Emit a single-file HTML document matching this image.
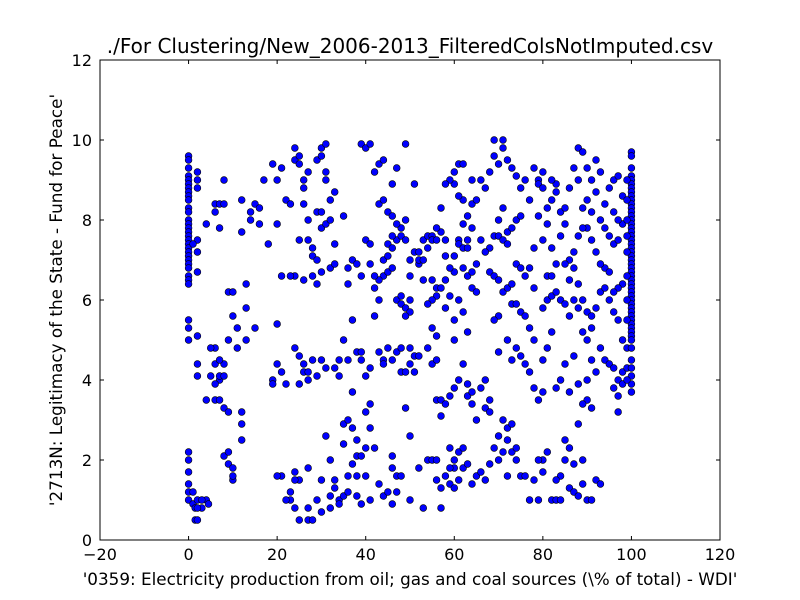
<!DOCTYPE html>
<html><head><meta charset="utf-8"><style>
html,body{margin:0;padding:0;background:#fff;}
svg{display:block;font-family:"DejaVu Sans","Liberation Sans",sans-serif;}
</style></head><body>
<svg id="chart" width="800" height="600" viewBox="0 0 800 600">
<rect x="0" y="0" width="800" height="600" fill="#fff"/>
<g id="points"></g>
<rect x="100" y="60" width="620" height="480" fill="none" stroke="#000" stroke-width="1"/>
<g id="ticks"></g>
<text x="410" y="53" font-size="20" text-anchor="middle">./For Clustering/New_2006-2013_FilteredColsNotImputed.csv</text>
<text x="410" y="585" font-size="16.8" text-anchor="middle">'0359: Electricity production from oil; gas and coal sources  (\% of total) - WDI'</text>
<text transform="translate(62,300) rotate(-90)" font-size="16.8" text-anchor="middle">'2713N: Legitimacy of the State - Fund for Peace'</text>
</svg>
<script>
const xTicks=[-20,0,20,40,60,80,100,120];
const yTicks=[0,2,4,6,8,10,12];
const points=[
[0,9.6],[0,9.5],[0,9.3],[0,9.1],[0,9.0],[0,8.9],[0,8.8],[0,8.7],[0,8.6],[0,8.5],[0,8.3],[0,8.2],[0,8.0],[0,7.9],[0,7.8],[0,7.7],[0,7.6],[0,7.5],[0,7.4],[0,7.3],[0,7.2],[0,7.1],[0,7.0],[0,6.9],[0,6.8],[0,6.6],[0,6.5],[0,6.4],[0,5.5],[0,5.3],[0,5.0],[0,2.2],[0,2.0],[0,1.7],[0,1.4],[0,1.2],[0,1.0],
[1,0.9],[1.5,0.5],[2,0.5],[3,0.8],[2,1.0],[4,1.0],[3,1.0],[1,1.2],[1.5,0.8],[4.5,0.9],[2,0.8],
[2,9.0],[2,8.8],[2,9.2],[2,7.5],[2,7.2],[1,7.4],[2,6.7],[2,5.1],[2,4.4],[2,4.1],
[4,7.9],[6,8.2],[6,8.4],[7,8.4],[8,9.0],[8,8.4],[7,7.8],[6,4.8],[5,4.8],[6,4.4],[5,4.1],[7,4.0],[6,3.9],[7,4.1],[8,4.4],[8,4.1],[6,3.5],[4,3.5],[7,3.5],[8,3.3],[9,3.2],[7,4.5],[8,2.1],[9,1.9],[9,2.2],[10,1.8],[10,1.5],[10,1.6],[9,6.2],[10,6.2],[10,5.6],[9,5.0],[11,4.8],[11,5.3],[12,3.2],[12,2.9],[12,2.5],[13,5.0],[13,6.4],[13,5.8],[12,7.7],[14,8.0],[12,8.5],[14,8.2],[15,8.4],[16,8.3],[15,5.3],[17,9.0],[16,7.9],[18,7.4],[19,9.4],[20,7.9],[20,9.0],[21,9.3],
[22,8.5],[23,8.4],[24,9.8],[24,9.5],[25,9.4],[25,9.6],[26,9.0],[26,8.8],[27,9.2],[26,8.4],[27,8.0],[25,7.5],[27,7.5],[28,7.3],[29,9.5],[30,9.8],[30,9.6],[31,9.9],[31,9.2],[29,8.2],[30,8.2],[30,7.8],[28,7.1],[29,7.0],[30,6.7],[28,6.6],[29,6.4],[31,7.9],[32,8.5],[33,8.7],[32,8.0],[33,7.4],[32,6.8],[33,6.9],[31,9.0],[26,6.5],[24,6.6],[23,6.6],[21,6.6],[20,5.4],[20,4.4],[19,4.0],[19,3.9],[21,4.2],[22,3.9],[24,4.8],[25,4.6],[25,3.9],[26,4.4],[26,4.2],[27,4.0],[27,4.2],[28,4.5],[29,4.1],[30,4.5],[31,4.3],[33,4.3],[34,4.5],[31,2.6],[32,2.0],[30,1.5],[29,1.0],[27,0.8],[27,1.8],[27,0.5],[25,0.5],[24,0.8],[25,1.5],[23,1.0],[24,1.7],[23,1.2],[21,1.6],[20,1.6],[22,1.0],[24,1.5],[28,0.5],[30,0.7],[32,1.1],[33,1.5],[34,1.0],[35,1.1],[36,1.2],[34,0.9],[36,1.6],[37,1.9],[32,0.8],[33,1.3],[35,2.4],[35,2.9],[36,3.0],[37,2.8],[38,2.5],[38,2.1],[37,3.7],[36,4.5],[35,5.0],[34,4.1],
[35,8.1],[36,6.4],[36,6.8],[37,7.0],[38,6.9],[37,5.5],[38,4.7],[39,4.7],[39,6.6],[39,9.9],[40,9.8],[41,9.9],[40,7.5],[41,7.4],[42,9.2],[43,8.4],[43,9.4],[44,9.5],[44,8.5],[45,8.2],[46,8.9],[47,9.3],[46,8.1],[45,7.4],[44,7.0],[45,7.1],[46,7.3],[47,7.5],[48,7.6],[48,7.8],[49,8.0],[49,7.5],[47,7.9],[46,7.6],[44,6.6],[45,6.7],[46,6.8],[43,6.5],[42,6.6],[41,6.9],[42,6.3],[43,6.0],[42,5.6],[41,4.3],[40,4.1],[39,4.5],[40,3.2],[41,3.4],[41,2.8],[40,2.3],[42,2.3],[39,2.1],[40,1.6],[43,1.4],[38,1.6],[38,1.1],[39,0.9],[41,1.0],[44,1.1],[45,1.2],[46,0.9],[47,1.2],[46,1.8],[46,2.1],[47,1.6],[48,1.6],[44,4.5],[43,4.7],[44,4.4],[45,4.8],[46,4.5],[47,4.7],[48,4.8],[48,4.2],[49,4.2],[49,3.3],[47,6.0],[48,5.9],[49,5.8],[50,6.0],[50,5.7],[49,5.6],[48,6.1],[50,6.6],[50,7.0],[51,7.2],[51,8.9],[49,9.9],[50,4.4],[51,4.6],[52,4.6],[50,4.8],[51,4.2],[50,2.6],[50,1.0],[52,1.8],[53,0.8],[54,2.0],[55,2.0],[56,2.0],[56,1.5],[57,1.3],[57,0.8],
[52,7.2],[53,7.5],[54,7.6],[55,7.6],[54,7.3],[55,7.5],[56,7.5],[57,7.7],[56,7.8],[57,8.3],[58,7.5],[58,7.1],[55,6.5],[56,6.3],[57,6.3],[56,6.1],[55,6.0],[54,5.9],[53,6.5],[52,6.9],[52,7.0],[53,7.0],[58,6.5],[59,6.1],[58,5.8],[60,6.7],[59,6.8],[60,7.1],[61,7.5],[61,7.4],[62,7.3],[63,7.3],[62,7.9],[63,8.1],[62,8.5],[61,8.6],[60,8.9],[61,9.4],[62,9.4],[60,9.2],[59,9.0],[58,8.9],[64,8.4],[64,9.0],[65,8.5],[64,7.8],[63,7.5],[62,6.8],[63,6.6],[64,6.7],[65,6.9],[64,6.3],[65,6.2],[61,6.0],[60,5.5],[62,5.7],[63,5.2],[60,5.0],[56,5.1],[55,5.3],[54,4.8],[55,4.4],[56,4.5],[56,3.5],[57,3.5],[58,3.4],[57,3.1],[59,3.6],[60,3.8],[61,4.0],[62,4.4],[63,3.6],[64,3.7],[63,3.9],[64,3.4],[65,3.0],[66,3.8],[67,4.0],[67,3.3],[68,3.5],[68,3.2],[59,2.3],[60,2.0],[60,1.8],[61,2.2],[62,2.3],[59,1.8],[58,1.6],[59,1.4],[60,1.3],[61,1.5],[62,1.8],[63,1.9],[64,1.4],[65,1.6],[66,1.7],[67,1.5],[68,1.9],[69,2.3],[70,2.0],[70,2.6],[71,2.2],[72,2.5],[71,3.0],[72,2.8],[73,2.9],[72,1.6],[74,2.0],[75,1.6],[76,1.6],[77,1.0],[73,2.2],[74,2.3],
[66,9.0],[67,8.8],[68,9.2],[69,9.6],[69,10],[70,9.4],[71,10],[71,9.8],[72,9.5],[73,9.3],[74,9.1],[75,8.8],[76,9.0],[77,8.5],[78,9.3],[79,9.0],[80,9.2],[70,8.0],[71,8.3],[72,7.7],[73,7.8],[74,8.0],[75,8.1],[68,7.3],[69,7.6],[70,7.6],[71,7.5],[72,7.4],[66,7.5],[67,7.2],[68,6.7],[69,6.6],[70,6.5],[71,6.2],[72,6.3],[73,6.4],[74,6.9],[75,6.8],[76,6.6],[77,6.8],[78,6.3],[73,5.9],[74,5.9],[75,5.7],[76,5.6],[77,5.3],[78,5.0],[70,5.6],[69,5.5],[72,5.0],[70,4.7],[73,4.5],[74,4.8],[75,4.6],[76,4.4],[77,4.2],[78,3.8],[79,3.5],[80,3.7],[80,4.5],[81,4.8],[82,5.2],[80,5.8],[81,6.0],[82,6.1],[83,6.2],[81,6.6],[82,6.6],[83,6.9],[82,7.3],[80,7.5],[81,7.9],[81,8.3],[82,8.5],[83,8.9],[84,8.2],[85,8.3],[84,7.6],[85,7.9],[86,8.8],[87,9.3],[88,9.8],[89,9.7],[88,9.0],[90,9.3],[91,9.0],[92,9.5],[93,9.2],[82,9.0],[83,8.7],[79,8.1],[78,7.3],[79,8.9],[80,8.8],
[84,6.0],[85,5.9],[86,5.6],[87,6.0],[88,5.8],[89,6.0],[90,5.7],[91,5.3],[90,5.0],[89,5.2],[87,4.6],[85,4.4],[84,4.0],[83,3.8],[86,3.7],[88,3.9],[90,4.0],[91,4.5],[92,4.2],[93,4.8],[94,4.5],[95,4.4],[96,4.3],[97,4.0],[98,4.2],[97,3.6],[96,3.8],[97,3.2],[91,3.3],[90,3.5],[89,3.4],[88,2.9],[89,2.0],[87,1.9],[86,2.3],[85,2.0],[84,1.6],[83,1.5],[82,1.0],[83,1.0],[84,1.0],[86,1.3],[87,1.2],[88,1.1],[89,1.4],[90,1.0],[91,1.0],[92,1.5],[93,1.4],[80,2.0],[81,2.2],[80,1.7],[79,2.0],[78,1.5],[79,1.0],[85,2.5],[91,5.6],[92,5.8],[93,6.2],[94,6.3],[95,6.0],[96,5.7],[97,5.5],[94,6.8],[95,6.7],[93,6.9],[92,7.2],[91,7.5],[90,7.8],[89,7.8],[88,7.6],[87,7.2],[86,7.0],[85,6.9],[89,8.3],[90,8.5],[91,8.2],[92,8.7],[93,8.0],[94,8.4],[95,8.8],[96,9.0],[97,9.1],[94,7.8],[95,7.6],[96,7.4],[97,7.5],[98,7.9],[96,8.2],[97,8.0],[98,8.6],[98,6.4],[97,6.3],[96,6.2],[98,5.0],[99,4.8],[99,4.3],[98,3.9],[88,6.4],[87,6.8],[86,6.5],
[100,9.7],[100,9.6],[100,9.3],[100,9.1],[100,9.0],[100,8.9],[100,8.8],[100,8.7],[100,8.6],[100,8.5],[100,8.4],[100,8.3],[100,8.2],[100,8.1],[100,8.0],[100,7.9],[100,7.8],[100,7.7],[100,7.6],[100,7.5],[100,7.4],[100,7.3],[100,7.2],[100,7.1],[100,7.0],[100,6.9],[100,6.8],[100,6.7],[100,6.6],[100,6.5],[100,6.4],[100,6.3],[100,6.2],[100,6.1],[100,6.0],[100,5.9],[100,5.8],[100,5.7],[100,5.6],[100,5.5],[100,5.4],[100,5.3],[100,5.2],[100,5.1],[100,5.0],[100,4.8],[100,4.5],[100,4.3],[100,4.1],[100,3.9],[100,3.7],
[99,9.0],[99,8.5],[99,8.0],[99,7.6],[99,7.2],[99,6.6],[99,6.0],[99,5.5],[99,4.0]
];
const NS="http://www.w3.org/2000/svg";
const X0=100,X1=720,Y0=540,Y1=60,xmin=-20,xmax=120,ymin=0,ymax=12;
function sx(v){return X0+(v-xmin)/(xmax-xmin)*(X1-X0);}
function sy(v){return Y0-(v-ymin)/(ymax-ymin)*(Y0-Y1);}
const pg=document.getElementById('points');
points.forEach(function(p){
  const c=document.createElementNS(NS,'circle');
  c.setAttribute('cx',sx(p[0]));c.setAttribute('cy',sy(p[1]));c.setAttribute('r',3.4);
  c.setAttribute('fill','#0000ff');c.setAttribute('stroke','#000');c.setAttribute('stroke-width','0.6');
  
  
  pg.appendChild(c);
});
const tg=document.getElementById('ticks');
function line(x1,y1,x2,y2){const l=document.createElementNS(NS,'line');l.setAttribute('x1',x1);l.setAttribute('y1',y1);l.setAttribute('x2',x2);l.setAttribute('y2',y2);l.setAttribute('stroke','#000');l.setAttribute('stroke-width','1');
  
  
  tg.appendChild(l);}
function label(x,y,s,anchor){const t=document.createElementNS(NS,'text');t.setAttribute('x',x);t.setAttribute('y',y);t.setAttribute('font-size','16');t.setAttribute('text-anchor',anchor);t.textContent=s;
  
  
  tg.appendChild(t);}
xTicks.forEach(function(v){const x=sx(v);line(x,Y0,x,Y0-4);line(x,Y1,x,Y1+4);label(x,Y0+20,String(v).replace('-','\u2212'),'middle');});
yTicks.forEach(function(v){const y=sy(v);line(X0,y,X0+4,y);line(X1,y,X1-4,y);label(X0-8,y+6,String(v),'end');});
</script>
</body></html>
